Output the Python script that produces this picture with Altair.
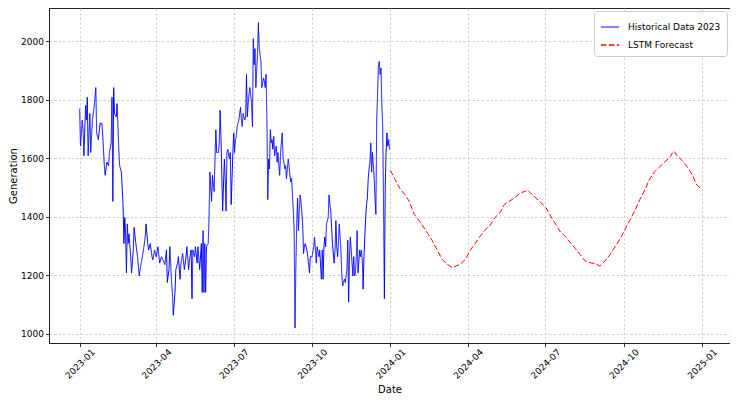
import altair as alt
import pandas as pd

# ---- Historical data 2023 (day offset from 2023-01-01, generation) ----
hist_days = [0, 1, 3, 4, 5, 7, 8, 9, 10, 12, 13, 15, 17, 19, 20, 22, 24, 26, 27, 29,
             30, 32, 34, 35, 37, 38, 39, 40, 41, 43, 44, 46, 47, 49, 51, 52, 53, 54, 55, 56,
             57, 58, 60, 61, 63, 64, 66, 68, 70, 71, 73, 75, 77, 78, 80, 81, 83, 85, 86, 88,
             90, 92, 94, 96, 98, 100, 102, 103, 105, 106, 108, 109, 110, 112, 113, 115, 116, 118, 119, 121,
             123, 125, 126, 128, 129, 131, 132, 133, 135, 136, 138, 139, 141, 143, 144, 145, 146, 147, 148, 149,
             151, 152, 153, 155, 156, 158, 159, 160, 161, 163, 164, 165, 166, 167, 168, 170, 171, 172, 173, 174,
             176, 177, 178, 180, 181, 182, 183, 184, 185, 187, 188, 189, 190, 191, 192, 194, 195, 196, 197, 198,
             199, 200, 202, 203, 204, 205, 206, 207, 209, 210, 211, 212, 213, 214, 216, 217, 218, 219, 220, 221,
             222, 223, 224, 225, 226, 227, 228, 229, 231, 232, 233, 234, 235, 236, 238, 239, 240, 241, 242, 243,
             245, 246, 247, 248, 249, 250, 251, 252, 253, 254, 255, 256, 257, 258, 259, 260, 262, 263, 264, 265,
             267, 268, 270, 271, 273, 275, 276, 278, 279, 281, 282, 284, 285, 286, 287, 288, 289, 290, 292, 293,
             294, 295, 296, 297, 299, 300, 301, 302, 303, 304, 305, 307, 308, 309, 310, 311, 312, 314, 315, 316,
             317, 318, 319, 321, 322, 323, 324, 325, 326, 327, 329, 330, 331, 332, 333, 334, 336, 337, 338, 339,
             340, 341, 342, 343, 344, 346, 347, 348, 349, 350, 351, 352, 353, 354, 355, 356, 357, 358, 359, 360,
             361, 362, 363, 364]
hist_values = [1769, 1641, 1730, 1697, 1608, 1780, 1730, 1808, 1608, 1752, 1619, 1730, 1774, 1841, 1686, 1663, 1719, 1719, 1686, 1574,
               1541, 1586, 1574, 1619, 1652, 1808, 1452, 1841, 1752, 1741, 1786, 1630, 1574, 1552, 1441, 1308, 1397, 1341, 1208, 1375,
               1308, 1341, 1263, 1208, 1286, 1363, 1308, 1263, 1197, 1219, 1252, 1286, 1330, 1375, 1308, 1286, 1308, 1263, 1252, 1286,
               1263, 1297, 1241, 1263, 1252, 1236, 1286, 1175, 1219, 1297, 1175, 1141, 1063, 1141, 1219, 1241, 1263, 1186, 1241, 1274,
               1219, 1263, 1297, 1219, 1252, 1286, 1119, 1286, 1263, 1297, 1241, 1297, 1219, 1308, 1141, 1352, 1141, 1308, 1141, 1297,
               1308, 1397, 1552, 1452, 1541, 1486, 1597, 1697, 1619, 1619, 1652, 1763, 1674, 1541, 1419, 1597, 1530, 1419, 1619, 1630,
               1597, 1619, 1441, 1619, 1686, 1619, 1663, 1674, 1708, 1730, 1752, 1774, 1730, 1708, 1752, 1730, 1741, 1886, 1741, 1786,
               1819, 1841, 1786, 1708, 2008, 1919, 1974, 1841, 1963, 2063, 1974, 1952, 1930, 1841, 1874, 1863, 1841, 1886, 1730, 1458,
               1597, 1563, 1697, 1652, 1663, 1630, 1674, 1608, 1641, 1586, 1619, 1574, 1541, 1619, 1686, 1597, 1586, 1563, 1574, 1530,
               1597, 1574, 1541, 1519, 1530, 1474, 1419, 1352, 1019, 1230, 1375, 1463, 1352, 1419, 1474, 1452, 1375, 1274, 1297, 1308,
               1286, 1263, 1208, 1263, 1263, 1297, 1330, 1241, 1297, 1263, 1286, 1186, 1286, 1186, 1297, 1330, 1297, 1375, 1397, 1474,
               1441, 1419, 1363, 1308, 1241, 1286, 1386, 1297, 1263, 1308, 1375, 1286, 1197, 1163, 1175, 1186, 1175, 1219, 1319, 1108,
               1263, 1330, 1286, 1197, 1263, 1197, 1208, 1263, 1352, 1208, 1286, 1263, 1286, 1252, 1152, 1263, 1397, 1441, 1463, 1530,
               1563, 1586, 1652, 1552, 1619, 1530, 1463, 1408, 1730, 1819, 1919, 1930, 1886, 1908, 1785, 1708, 1441, 1119, 1508, 1619,
               1686, 1641, 1663, 1630]

# ---- LSTM forecast 2024 (day offset from 2024-01-01, generation) ----
fc_days = [0, 5, 11, 17, 22, 28, 34, 39, 44, 49, 55, 61, 67, 73, 77, 82, 88, 94, 100, 105,
           111, 117, 123, 129, 134, 140, 146, 152, 158, 161, 165, 171, 177, 183, 188, 194, 200, 206, 212, 217,
           223, 229, 235, 241, 246, 252, 258, 264, 270, 275, 281, 287, 293, 299, 304, 310, 316, 322, 328, 333,
           337, 343, 349, 355, 360, 365]
fc_values = [1558, 1530, 1497, 1475, 1453, 1408, 1386, 1364, 1342, 1319, 1286, 1253, 1237, 1225, 1231, 1237, 1253, 1286, 1309, 1331,
             1353, 1370, 1397, 1414, 1442, 1453, 1464, 1480, 1486, 1491, 1480, 1464, 1447, 1430, 1403, 1375, 1347, 1331, 1309, 1292,
             1270, 1248, 1242, 1239, 1231, 1248, 1270, 1297, 1325, 1353, 1386, 1419, 1458, 1491, 1525, 1552, 1569, 1586, 1602, 1624,
             1608, 1591, 1569, 1541, 1508, 1495]

series_names = ["Historical Data 2023", "LSTM Forecast"]
series_colors = ["#0000ff", "#ff0000"]
series_dash = [[1, 0], [5.5, 2.4]]
y_ticks = [1000, 1200, 1400, 1600, 1800, 2000]
x_tick_months = [(2023, 1), (2023, 4), (2023, 7), (2023, 10), (2024, 1), (2024, 4), (2024, 7), (2024, 10), (2025, 1)]

hist = pd.DataFrame({
    "date": pd.Timestamp("2023-01-01") + pd.to_timedelta(hist_days, unit="D"),
    "value": hist_values,
    "series": series_names[0],
})
fc = pd.DataFrame({
    "date": pd.Timestamp("2024-01-01") + pd.to_timedelta(fc_days, unit="D"),
    "value": fc_values,
    "series": series_names[1],
})
df = pd.concat([hist, fc], ignore_index=True)

font = "DejaVu Sans"

x_axis = alt.Axis(
    title="Date",
    values=[alt.DateTime(year=y, month=m, date=1) for y, m in x_tick_months],
    format="%Y-%m",
    labelAngle=-45,
    labelAlign="center",
    labelBaseline="middle",
    labelPadding=17,
    titlePadding=4,
)
y_axis = alt.Axis(title="Generation", values=y_ticks, format="d", labelPadding=2, titlePadding=2)

legend = alt.Legend(
    title=None,
    orient="top-right",
    offset=3,
    padding=6,
    rowPadding=3,
    fillColor="white",
    strokeColor="#cccccc",
    cornerRadius=3,
    symbolType="stroke",
    symbolSize=330,
    symbolStrokeWidth=1.5,
    labelFont=font,
    labelFontSize=9,
    labelColor="black",
    labelOffset=8,
)

chart = alt.Chart(df).mark_line(strokeWidth=1, clip=True).encode(
    x=alt.X("date:T", axis=x_axis,
            scale=alt.Scale(domain=[alt.DateTime(year=2022, month=11, date=26),
                                    alt.DateTime(year=2025, month=2, date=3)])),
    y=alt.Y("value:Q", axis=y_axis,
            scale=alt.Scale(domain=[968, 2113], nice=False, zero=False)),
    color=alt.Color("series:N", scale=alt.Scale(domain=series_names, range=series_colors), legend=legend),
    strokeDash=alt.StrokeDash("series:N", scale=alt.Scale(domain=series_names, range=series_dash), legend=legend),
    strokeWidth=alt.StrokeWidth("series:N", scale=alt.Scale(domain=series_names, range=[1.0, 1.5]), legend=None),
).properties(
    width=722,
    height=387,
    padding={"left": 0, "right": 0, "top": 0, "bottom": 0},
    autosize=alt.AutoSizeParams(type="fit", contains="padding"),
).configure_view(
    stroke="#222222", strokeWidth=1
).configure_axis(
    labelFont=font, titleFont=font, labelFontSize=9, titleFontSize=10,
    titleFontWeight="normal", labelColor="black", titleColor="black",
    domainColor="#222222", domainWidth=1, tickColor="black", tickWidth=0.8, tickSize=3.5,
    gridColor="#c0c0c0", gridDash=[2.5, 2], gridWidth=0.8, gridOpacity=0.9,
)

chart.save("out.html", embed_options={"renderer": "svg", "actions": False})
